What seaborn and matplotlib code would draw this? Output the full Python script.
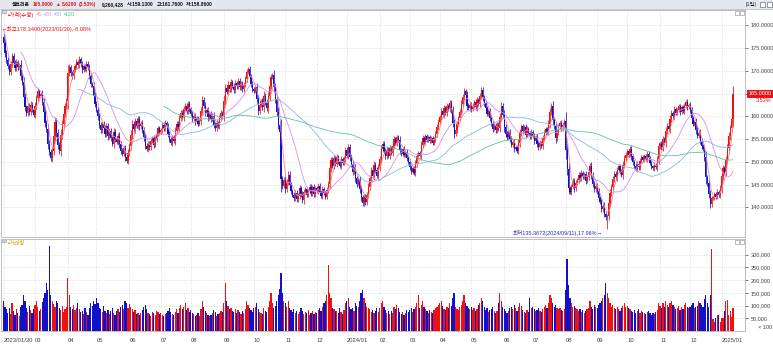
import numpy as np
import pandas as pd
import matplotlib
matplotlib.use("Agg")
import matplotlib.pyplot as plt
import matplotlib.transforms as mtransforms
from matplotlib.patches import Rectangle
from matplotlib.lines import Line2D
import seaborn as sns

sns.set_style("white")
KR = ["Noto Sans CJK KR", "DejaVu Sans"]
NUM = ["Liberation Sans", "Noto Sans CJK KR", "DejaVu Sans"]
plt.rcParams["font.family"] = KR

# ---------------- data ----------------
start_date = "2023-01-30"
pre_close = [174.0, 176.5, 178.8, 180.6, 181.4, 179.6, 178.2]   # days before the window (feed the MAs)
first_open = 177.5
close = [
    # 2023-01
    176.2, 174.0,
    # 2023-02
    172.5, 171.0, 169.8, 171.5, 173.2, 171.8, 170.6, 171.9, 170.8, 171.4, 169.0, 167.6, 164.2, 162.0, 160.8, 162.3, 161.0, 162.6, 161.5, 160.4,
    # 2023-03
    162.4, 164.0, 165.5, 164.6, 165.0, 163.2, 161.0, 158.6, 157.2, 154.0, 152.2, 150.8, 152.5, 155.6, 158.8, 156.4, 153.8, 152.4, 156.0, 158.3, 160.6, 162.2, 163.4,
    # 2023-04
    169.5, 170.8, 169.6, 168.8, 170.2, 171.0, 172.0, 171.2, 172.6, 171.5, 170.2, 171.0, 170.4, 171.6, 170.8, 168.9, 167.2, 166.8, 164.6, 162.8,
    # 2023-05
    161.5, 160.0, 158.2, 157.0, 158.4, 157.5, 156.2, 157.8, 155.6, 156.8, 155.2, 154.0, 156.5, 155.0, 154.4, 155.8, 153.9, 152.5, 151.8, 153.0, 151.0, 150.2, 152.0,
    # 2023-06
    153.5, 156.0, 158.4, 157.2, 159.0, 158.0, 159.4, 157.8, 158.6, 157.0, 155.4, 153.6, 152.8, 154.0, 153.2, 154.6, 155.2, 153.8, 155.0, 156.2, 157.4, 156.6,
    # 2023-07
    157.0, 158.2, 157.4, 158.6, 157.8, 156.2, 155.0, 154.2, 155.4, 154.6, 156.8, 158.4, 157.6, 159.6, 160.8, 159.8, 161.6, 162.4, 161.2, 162.8, 161.6,
    # 2023-08
    160.6, 159.4, 160.2, 158.8, 159.6, 158.4, 159.0, 161.2, 163.6, 162.4, 160.8, 161.4, 159.8, 160.6, 159.4, 160.2, 158.2, 157.4, 158.6, 158.0, 159.6, 160.8, 160.2,
    # 2023-09
    163.5, 166.2, 165.4, 167.0, 166.0, 167.6, 166.8, 165.8, 167.4, 166.6, 167.8, 166.4, 167.2, 166.0, 167.0, 168.2, 169.8, 170.4, 168.6, 167.2, 166.0,
    # 2023-10
    165.6, 166.4, 163.8, 161.2, 162.6, 163.4, 162.0, 164.6, 163.2, 161.8, 164.4, 166.8, 168.6, 169.2, 166.4, 163.8, 161.0, 158.2, 156.6, 146.2, 144.8, 146.0,
    # 2023-11
    144.0, 145.6, 147.2, 145.0, 143.6, 142.8, 142.0, 143.2, 141.8, 142.6, 144.2, 143.0, 141.6, 143.4, 144.0, 142.8, 143.6, 144.6, 143.2, 144.4, 143.0, 144.2,
    # 2023-12
    143.6, 144.8, 143.4, 142.6, 144.0, 143.2, 142.4, 143.8, 145.2, 148.6, 150.4, 149.2, 150.8, 149.6, 151.0, 150.0, 149.2, 150.6, 149.8, 150.8, 152.6,
    # 2024-01
    151.4, 153.2, 151.0, 149.6, 147.8, 148.6, 146.4, 145.2, 146.0, 144.0, 142.2, 141.0, 142.4, 141.2, 142.8, 144.6, 146.4, 148.2, 147.0, 149.4, 148.2, 147.0, 148.8,
    # 2024-02
    150.6, 152.8, 154.0, 152.4, 151.2, 152.6, 151.4, 153.0, 152.0, 153.6, 155.0, 154.2, 155.4, 154.8, 152.6, 151.8, 152.8, 151.6, 152.2, 150.8, 150.0,
    # 2024-03
    148.8, 147.8, 148.6, 147.6, 149.6, 151.2, 152.0, 151.4, 153.8, 155.2, 154.4, 155.6, 154.8, 155.4, 154.6, 155.2, 154.2, 155.0, 156.2, 157.6, 158.8,
    # 2024-04
    159.8, 161.2, 160.4, 161.8, 160.8, 162.2, 161.6, 163.0, 161.4, 158.6, 156.2, 157.0, 158.4, 159.6, 161.0, 162.8, 164.2, 165.6, 164.8, 162.4, 161.8, 162.6,
    # 2024-05
    161.6, 162.4, 163.2, 162.0, 163.6, 162.8, 164.4, 165.8, 164.2, 163.0, 161.8, 160.6, 161.2, 159.6, 158.4, 157.2, 158.0, 157.0, 158.2, 157.4, 159.8, 162.2, 160.4,
    # 2024-06
    157.6, 156.2, 155.4, 156.6, 155.0, 153.8, 154.4, 152.8, 153.2, 152.4, 154.2, 156.4, 157.8, 156.8, 157.6, 156.0, 157.2, 156.4, 155.6, 156.6,
    # 2024-07
    155.8, 154.6, 155.4, 154.0, 153.2, 154.2, 153.6, 155.2, 156.4, 157.2, 156.6, 158.4, 161.0, 162.4, 159.2, 157.8, 155.2, 156.6, 157.8, 158.6, 157.4, 158.2, 159.0,
    # 2024-08
    152.6, 148.4, 144.2, 143.4, 144.6, 145.8, 144.2, 145.4, 146.0, 147.2, 146.4, 147.6, 146.8, 147.4, 145.8, 146.6, 147.8, 149.2, 147.0, 145.2, 144.0, 144.8,
    # 2024-09
    143.6, 142.0, 141.2, 139.6, 140.4, 138.6, 137.8, 138.2, 141.0, 143.2, 144.6, 146.2, 147.4, 146.6, 148.2, 149.0, 148.0, 147.2, 149.4, 150.8, 151.6,
    # 2024-10
    152.4, 151.6, 152.8, 151.2, 150.0, 149.2, 148.4, 149.6, 148.8, 150.2, 151.0, 150.4, 151.2, 150.6, 151.8, 150.8, 149.8, 149.0, 148.6, 149.4, 148.8, 150.6, 153.4,
    # 2024-11
    154.0, 153.2, 155.0, 154.2, 156.8, 158.0, 157.2, 159.4, 160.8, 160.0, 161.6, 160.8, 161.4, 162.2, 161.0, 162.0, 161.2, 162.4, 163.2, 162.0, 162.6,
    # 2024-12
    161.4, 159.6, 158.4, 158.8, 157.0, 155.8, 156.4, 154.6, 153.4, 152.8, 151.0, 146.6, 145.4, 143.0, 140.8, 142.0, 142.2, 143.0, 142.4, 143.4, 142.8, 144.2,
    # 2025-01
    146.8, 148.6, 147.8, 150.4, 153.0, 155.6, 157.4, 159.38, 165.0,
]
# volume in thousands of "x100 shares" (axis units / 1000)
volume_k = [
    120, 95,
    85, 70, 92, 66, 110, 78, 64, 88, 72, 58, 96, 104, 142, 118, 90, 76, 98, 84, 70, 88,
    102, 120, 95, 80, 88, 115, 130, 150, 190, 160, 335, 140, 120, 105, 96, 118, 110, 92, 84, 100, 76, 88, 94,
    210, 140, 96, 88, 102, 84, 92, 110, 86, 74, 80, 68, 90, 76, 64, 92, 110, 98, 120, 105,
    130, 110, 90, 86, 76, 98, 80, 70, 84, 66, 78, 92, 70, 64, 80, 86, 74, 96, 102, 88, 120, 110, 92,
    108, 96, 88, 76, 82, 68, 72, 64, 70, 84, 96, 102, 88, 72, 66, 60, 74, 70, 62, 80, 76, 68,
    72, 64, 58, 66, 70, 80, 92, 76, 68, 62, 74, 86, 70, 92, 104, 88, 96, 110, 84, 90, 76,
    82, 70, 66, 58, 64, 72, 60, 88, 120, 96, 80, 70, 64, 58, 62, 70, 84, 76, 60, 66, 72, 80, 74,
    110, 190, 120, 98, 86, 92, 80, 76, 88, 70, 82, 74, 68, 80, 72, 86, 120, 104, 92, 84, 76,
    90, 96, 110, 88, 76, 70, 66, 92, 80, 74, 96, 120, 150, 110, 92, 100, 118, 140, 165, 230, 150, 120,
    110, 96, 120, 90, 84, 76, 88, 70, 80, 66, 74, 92, 80, 68, 76, 70, 82, 64, 72, 78, 66, 74,
    70, 84, 92, 80, 96, 110, 120, 140, 260, 150, 130, 92, 86, 78, 80, 72, 90, 76, 68, 82, 110,
    120, 130, 96, 88, 92, 80, 110, 100, 96, 120, 150, 160, 130, 110, 96, 92, 88, 76, 84, 70, 80, 92, 76,
    90, 110, 120, 96, 84, 70, 78, 66, 80, 72, 96, 88, 104, 90, 76, 68, 74, 64, 70, 82, 76,
    84, 92, 76, 88, 96, 110, 140, 92, 104, 118, 96, 88, 80, 72, 84, 76, 70, 82, 90, 96, 104,
    110, 120, 98, 88, 84, 96, 92, 110, 100, 130, 150, 96, 88, 84, 96, 104, 120, 140, 110, 98, 92, 86,
    96, 84, 92, 80, 88, 104, 110, 130, 120, 96, 84, 90, 76, 82, 88, 94, 80, 72, 78, 110, 150, 120, 96,
    86, 80, 72, 78, 90, 96, 88, 104, 92, 80, 96, 110, 100, 84, 76, 70, 82, 74, 130, 90,
    96, 88, 80, 84, 92, 80, 74, 86, 96, 104, 92, 110, 140, 130, 110, 96, 104, 92, 86, 90, 84, 80, 88,
    160, 285, 180, 130, 110, 96, 100, 92, 86, 80, 88, 76, 82, 70, 78, 86, 92, 120, 96, 88, 104, 96,
    92, 104, 110, 120, 130, 140, 190, 150, 130, 110, 96, 104, 92, 86, 96, 88, 80, 92, 100, 110, 96,
    100, 92, 86, 80, 76, 84, 70, 78, 86, 72, 80, 76, 70, 66, 74, 80, 70, 64, 72, 68, 76, 84, 110,
    100, 92, 110, 96, 120, 104, 96, 110, 120, 104, 96, 88, 92, 100, 84, 96, 88, 104, 110, 96, 90,
    96, 104, 110, 90, 96, 100, 120, 110, 104, 96, 124, 143, 110, 96, 143, 322, 49, 37, 50, 63, 63, 37,
    52, 52, 77, 117, 123, 63, 79, 57, 92,
]
high_marks = {"2023-01-30": 178.34}
low_marks = {"2024-09-11": 135.3672}
ma_windows = [5, 20, 60, 120]
ma_colors = ["#F2878B", "#D890E8", "#8DB7EA", "#5CC6A2"]
price_ticks = [140, 145, 150, 155, 160, 165, 170, 175, 180]
vol_ticks = [50000, 100000, 150000, 200000, 250000, 300000]
header_items = [("셀트리온", "#111111", 2.5), ("165.0000", "#E8141C", 2), ("▲", "#E8141C", 1.5),
                ("5.6200", "#E8141C", 2), ("(3.53%)", "#E8141C", 6), ("9,260,428", "#111111", 3),
                ("시:159.1300", "#111111", 3), ("고:161.7600", "#111111", 3), ("저:158.8600", "#111111", 0)]
legend_items = [("▪가격(수정)", "#E8141C", 2), ("▪5", "#F2878B", 2), ("▪20", "#D890E8", 2),
                ("▪60", "#8DB7EA", 2), ("▪120", "#5CC6A2", 0)]

RED = "#EE1111"
BLUE = "#1111CC"

# ---------------- derived ----------------
n = min(len(close), len(volume_k))
c = np.array(close[:n], dtype=float)
vol = np.array(volume_k[:n], dtype=float) * 1000
o = np.r_[first_open, c[:-1]]
dates = pd.bdate_range(start_date, periods=n)
x = np.arange(n)
up = c >= o
cols = np.where(up, RED, BLUE)
bhi = np.maximum(o, c)
blo = np.minimum(o, c)
wick = 0.25 * (bhi - blo) + 0.3
hi = bhi + wick
lo = blo - wick
for d, v in high_marks.items():
    i = dates.get_loc(pd.Timestamp(d)); hi[i] = v
for d, v in low_marks.items():
    i = dates.get_loc(pd.Timestamp(d)); lo[i] = v
full = pd.Series(list(pre_close) + list(c))
ma = {w: full.rolling(w).mean().iloc[len(pre_close):].to_numpy() for w in ma_windows}

# ---------------- figure ----------------
W, H = 773, 351
fig = plt.figure(figsize=(W / 100, H / 100), dpi=100)
fig.patch.set_facecolor("white")
def fx(p): return p / W
def fy(p): return 1 - p / H

L, R = 1, 745
ax = fig.add_axes([fx(L), fy(237), fx(R) - fx(L), fy(10) - fy(237)])
ax2 = fig.add_axes([fx(L), fy(331), fx(R) - fx(L), fy(239) - fy(331)])

px_per = (733 - 3.5) / (n - 1)
xlim = (-(3.5 - L) / px_per, (n - 1) + (R - 733) / px_per)

# candles
ax.vlines(x, lo, hi, colors=cols, linewidth=0.55, zorder=3)
ax.bar(x, np.maximum(bhi - blo, 0.15), bottom=blo, width=0.8, color=cols, linewidth=0, zorder=3)
# moving averages
for w, col in zip(ma_windows, ma_colors):
    sns.lineplot(x=x, y=ma[w], color=col, linewidth=0.6, ax=ax, estimator=None, sort=False, zorder=4)
# volume
ax2.bar(x, vol, width=0.85, color=cols, linewidth=0)

# month ticks
ms = [i for i in range(1, n) if dates[i].month != dates[i - 1].month and i > 10]
ticks = [0] + ms
labels = [dates[0].strftime("%Y/%m/%d")] + [dates[i].strftime("%Y/%m") if dates[i].month == 1 else dates[i].strftime("%m") for i in ms]

grid_kw = dict(color="#D2D2D2", linestyle=(0, (1, 2)), linewidth=0.6)
for a in (ax, ax2):
    a.set_xlim(*xlim)
    a.set_xticks(ticks)
    a.grid(True, **grid_kw)
    a.set_axisbelow(True)
    a.set_xlabel(""); a.set_ylabel("")
    a.yaxis.tick_right()
    a.tick_params(axis="y", length=2, width=0.5, pad=2, labelsize=4.0, colors="#444444", direction="out")
    for s in a.spines.values():
        s.set_color("#B4B4B4"); s.set_linewidth(0.6)
ax.tick_params(axis="x", length=0, labelbottom=False)
ax2.set_xticklabels(labels)
ax2.tick_params(axis="x", length=3, width=0.5, pad=2, labelsize=4.2, colors="#444444")
for t in ax2.get_xticklabels():
    t.set_horizontalalignment("left"); t.set_fontfamily(NUM)

ax.set_ylim(133.5, 183.4)
ax.set_yticks(price_ticks)
ax.set_yticklabels([f"{v:.4f}" for v in price_ticks], fontfamily=NUM)
ax2.set_ylim(0, 362000)
ax2.set_yticks(vol_ticks)
ax2.set_yticklabels([f"{v:,}" for v in vol_ticks], fontfamily=NUM)
ax2.text(1.036, 0.035, "× 100", transform=ax2.transAxes, ha="right", va="center",
         fontsize=4.0, color="#444444", family=NUM)

# current price tag
blend = mtransforms.blended_transform_factory(ax.transAxes, ax.transData)
ax.text(1.0055, c[-1], f"{c[-1]:.4f}", transform=blend, ha="left", va="center", color="white",
        fontsize=4.0, family=NUM, zorder=10, clip_on=False,
        bbox=dict(boxstyle="square,pad=0.3", fc="#E8141C", ec="none"))
ax.text(1.035, 163.4, "3.53%", transform=blend, ha="right", va="center", color=RED,
        fontsize=4.0, family=NUM, zorder=10, clip_on=False,
        bbox=dict(boxstyle="square,pad=0.1", fc="white", ec="none"))

renderer = fig.canvas.get_renderer()
def chain(items, x0, y, **kw):
    xp = x0
    for s, col, gap in items:
        t = fig.text(fx(xp), fy(y), s, ha="left", va="center", color=col, **kw)
        bb = t.get_window_extent(renderer=renderer)
        xp = bb.x1 + gap

def box(px_, py_, w=4, h=3.5, fc="white", ec="#8A8A8A"):
    fig.add_artist(Rectangle((fx(px_), fy(py_ + h)), w / W, h / H, transform=fig.transFigure,
                             fc=fc, ec=ec, lw=0.4))

# header bar
fig.add_artist(Rectangle((0, fy(9)), 1, 9 / H, transform=fig.transFigure, fc="#E4E7EE", ec="none"))
fig.add_artist(Line2D([0, 1], [fy(9), fy(9)], transform=fig.transFigure, color="#B9BECA", lw=0.6))
chain(header_items, 12, 4.6, fontsize=3.5, fontweight="bold", family=NUM)
fig.text(fx(745), fy(4.6), "|1일|", ha="left", va="center", fontsize=3.8, color="#222222", family=NUM)
for bx in (760, 767):
    box(bx, 2, 5, 5, ec="#555555")

# small panel icons
box(1.5, 10.5, 4, 2.5, fc="#D8D8D8", ec="#9A9A9A")
box(1.5, 239.5, 4, 2.5, fc="#D8D8D8", ec="#9A9A9A")
for bx in (735, 740):
    box(bx, 11, 4, 3.5)
    box(bx, 240, 4, 3.5)

# legend / labels
chain(legend_items, 8, 14.7, fontsize=4.0, family=NUM)
fig.text(fx(2), fy(29), "←최고178.3400(2023/01/30),-8.08%", ha="left", va="center",
         fontsize=4.0, color="#E8141C", family=NUM)
fig.text(fx(603), fy(233), "최저135.3672(2024/09/11),17.96%→", ha="right", va="center",
         fontsize=4.0, color="#2233BB", family=NUM)
fig.text(fx(8), fy(243), "▪거래량", ha="left", va="center", fontsize=4.0, color="#C9A800", family=NUM)

fig.savefig("out.png", dpi=100, facecolor="white")
